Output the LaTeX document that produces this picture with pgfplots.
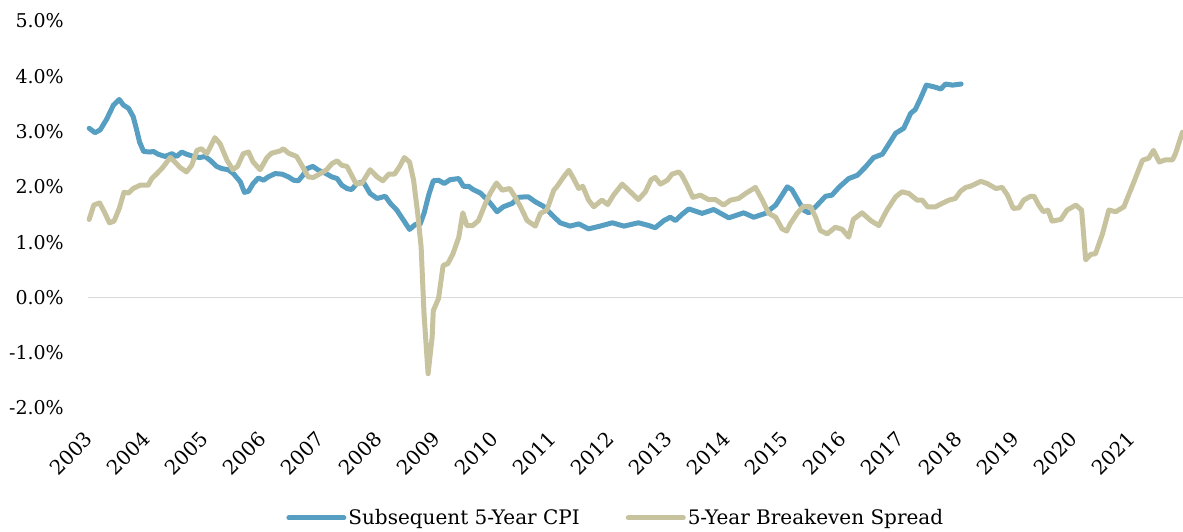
\documentclass[border=0pt]{standalone}
\usepackage{pgfplots}
\pgfplotsset{compat=1.18}
\usepackage{fontspec}
\setmainfont{DejaVu Serif}
\definecolor{cpiblue}{RGB}{86,158,194}
\definecolor{betan}{RGB}{200,195,159}
\definecolor{zerogray}{RGB}{217,217,217}

\begin{document}
\begin{tikzpicture}[x=1pt,y=1pt]
\useasboundingbox (0,0) rectangle (1183,532);
\begin{axis}[
  at={(88pt,124pt)}, anchor=south west,
  scale only axis, width=1095pt, height=387pt,
  xmin=2003, xmax=2021.9, ymin=-2, ymax=5,
  axis line style={draw=none}, major tick style={draw=none}, minor tick style={draw=none},
  xtick={2003,2004,2005,2006,2007,2008,2009,2010,2011,2012,2013,2014,2015,2016,2017,2018,2019,2020,2021},
  xticklabels={2003,2004,2005,2006,2007,2008,2009,2010,2011,2012,2013,2014,2015,2016,2017,2018,2019,2020,2021},
  ytick={-2,-1,0,1,2,3,4,5},
  yticklabels={-2.0\%,-1.0\%,0.0\%,1.0\%,2.0\%,3.0\%,4.0\%,5.0\%},
  extra y ticks={0}, extra y tick labels={},
  extra y tick style={grid=major, major grid style={draw=zerogray, line width=1.3pt}},
  yticklabel style={font=\fontsize{19}{23}\selectfont, anchor=east, inner sep=0pt, xshift=-24pt},
  xticklabel style={font=\fontsize{20}{24}\selectfont, xshift=1pt, yshift=-27pt, rotate=45, anchor=east, inner sep=0pt},
  legend style={at={(0.181,-0.284)}, anchor=west, draw=none, fill=none,
    legend columns=2, font=\fontsize{20}{24}\selectfont, inner sep=0pt,
    /tikz/every even column/.append style={column sep=44pt}},
  legend image code/.code={\draw[#1] (0pt,0pt) -- (55pt,0pt);},
  clip=false,
]
\addplot[cpiblue, line width=5pt, line join=round, line cap=round] coordinates {
(2003.02,3.06) (2003.12,2.98) (2003.21,3.03) (2003.32,3.22) (2003.44,3.48) (2003.54,3.58)
(2003.61,3.48) (2003.70,3.42) (2003.78,3.27) (2003.84,3.03) (2003.89,2.81) (2003.96,2.64)
(2004.07,2.63) (2004.13,2.64) (2004.21,2.59) (2004.33,2.55) (2004.45,2.60) (2004.53,2.55)
(2004.62,2.63) (2004.70,2.59) (2004.82,2.55) (2004.93,2.53) (2005.02,2.55) (2005.11,2.48)
(2005.22,2.37) (2005.31,2.33) (2005.42,2.31) (2005.51,2.24) (2005.63,2.09) (2005.70,1.90)
(2005.77,1.92) (2005.85,2.06) (2005.94,2.16) (2006.03,2.12) (2006.11,2.18) (2006.23,2.24)
(2006.35,2.23) (2006.46,2.18) (2006.55,2.12) (2006.63,2.11) (2006.71,2.21) (2006.78,2.33)
(2006.88,2.37) (2006.98,2.30) (2007.09,2.25) (2007.21,2.18) (2007.30,2.15) (2007.38,2.03)
(2007.47,1.97) (2007.55,1.95) (2007.64,2.06) (2007.75,2.09) (2007.87,1.88) (2007.99,1.79)
(2008.13,1.83) (2008.22,1.70) (2008.33,1.58) (2008.45,1.39) (2008.55,1.23) (2008.65,1.32)
(2008.73,1.32) (2008.80,1.52) (2008.88,1.85) (2008.96,2.11) (2009.05,2.12) (2009.15,2.06)
(2009.25,2.13) (2009.40,2.15) (2009.48,2.01) (2009.57,2.01) (2009.65,1.95) (2009.77,1.89)
(2009.89,1.77) (2009.97,1.67) (2010.06,1.55) (2010.17,1.64) (2010.32,1.70) (2010.43,1.81)
(2010.55,1.82) (2010.60,1.82) (2010.72,1.73) (2010.86,1.65) (2011.01,1.49) (2011.15,1.35)
(2011.32,1.29) (2011.47,1.33) (2011.64,1.24) (2011.84,1.29) (2012.05,1.35) (2012.25,1.29)
(2012.50,1.35) (2012.68,1.30) (2012.79,1.26) (2012.94,1.39) (2013.05,1.45) (2013.14,1.39)
(2013.25,1.50) (2013.37,1.60) (2013.60,1.52) (2013.80,1.59) (2014.06,1.44) (2014.32,1.53)
(2014.49,1.45) (2014.69,1.52) (2014.87,1.67) (2014.98,1.85) (2015.07,2.00) (2015.15,1.95)
(2015.27,1.73) (2015.35,1.58) (2015.44,1.53) (2015.56,1.64) (2015.73,1.83) (2015.84,1.85)
(2015.96,1.99) (2016.13,2.15) (2016.28,2.21) (2016.42,2.36) (2016.56,2.53) (2016.71,2.59)
(2016.82,2.77) (2016.94,2.97) (2017.08,3.06) (2017.20,3.33) (2017.28,3.40) (2017.37,3.60)
(2017.47,3.84) (2017.60,3.81) (2017.72,3.77) (2017.80,3.86) (2017.92,3.84) (2018.07,3.86)
};
\addlegendentry{Subsequent 5-Year CPI}
\addplot[betan, line width=5pt, line join=round, line cap=round] coordinates {
(2003.02,1.41) (2003.10,1.67) (2003.20,1.71) (2003.28,1.55) (2003.37,1.35) (2003.45,1.38)
(2003.54,1.61) (2003.62,1.90) (2003.70,1.89) (2003.78,1.97) (2003.90,2.03) (2004.04,2.03)
(2004.10,2.15) (2004.19,2.24) (2004.29,2.35) (2004.42,2.53) (2004.50,2.45) (2004.59,2.35)
(2004.70,2.27) (2004.79,2.39) (2004.88,2.66) (2004.96,2.69) (2005.05,2.60) (2005.12,2.74)
(2005.19,2.89) (2005.28,2.78) (2005.40,2.48) (2005.50,2.31) (2005.58,2.37) (2005.68,2.60)
(2005.77,2.63) (2005.85,2.45) (2005.97,2.31) (2006.09,2.53) (2006.17,2.61) (2006.32,2.65)
(2006.37,2.69) (2006.46,2.61) (2006.60,2.55) (2006.69,2.39) (2006.80,2.18) (2006.89,2.17)
(2007.01,2.24) (2007.12,2.31) (2007.21,2.42) (2007.30,2.47) (2007.38,2.39) (2007.47,2.37)
(2007.55,2.21) (2007.63,2.05) (2007.73,2.07) (2007.87,2.31) (2007.99,2.18) (2008.09,2.11)
(2008.19,2.23) (2008.29,2.23) (2008.38,2.37) (2008.46,2.53) (2008.55,2.45) (2008.62,2.12)
(2008.69,1.52) (2008.75,0.91) (2008.80,-0.30) (2008.87,-1.38) (2008.94,-0.72) (2008.96,-0.24)
(2009.05,-0.02) (2009.13,0.58) (2009.21,0.61) (2009.30,0.79) (2009.40,1.09) (2009.47,1.53)
(2009.54,1.30) (2009.64,1.30) (2009.74,1.39) (2009.86,1.70) (2009.94,1.88) (2010.05,2.07)
(2010.15,1.94) (2010.28,1.97) (2010.37,1.82) (2010.46,1.65) (2010.58,1.39) (2010.72,1.29)
(2010.81,1.52) (2010.92,1.58) (2011.04,1.94) (2011.09,2.00) (2011.21,2.18) (2011.30,2.30)
(2011.38,2.15) (2011.47,1.97) (2011.54,2.01) (2011.64,1.76) (2011.73,1.64) (2011.87,1.76)
(2011.97,1.68) (2012.07,1.85) (2012.22,2.05) (2012.36,1.91) (2012.50,1.77) (2012.62,1.91)
(2012.72,2.13) (2012.79,2.17) (2012.88,2.05) (2013.00,2.12) (2013.08,2.23) (2013.20,2.27)
(2013.25,2.21) (2013.34,2.03) (2013.44,1.81) (2013.57,1.85) (2013.71,1.77) (2013.83,1.77)
(2013.97,1.67) (2014.09,1.76) (2014.23,1.79) (2014.35,1.88) (2014.52,1.99) (2014.64,1.76)
(2014.75,1.52) (2014.87,1.45) (2014.98,1.24) (2015.06,1.20) (2015.12,1.33) (2015.24,1.52)
(2015.35,1.65) (2015.47,1.64) (2015.56,1.45) (2015.64,1.21) (2015.76,1.15) (2015.90,1.27)
(2016.02,1.23) (2016.13,1.09) (2016.21,1.41) (2016.36,1.53) (2016.51,1.39) (2016.65,1.30)
(2016.79,1.58) (2016.94,1.82) (2017.05,1.91) (2017.17,1.88) (2017.31,1.76) (2017.40,1.76)
(2017.49,1.64) (2017.63,1.64) (2017.74,1.70) (2017.86,1.76) (2017.97,1.79) (2018.06,1.92)
(2018.15,1.99) (2018.23,2.01) (2018.41,2.10) (2018.52,2.06) (2018.67,1.97) (2018.78,1.99)
(2018.87,1.85) (2018.97,1.61) (2019.07,1.62) (2019.15,1.76) (2019.27,1.83) (2019.33,1.83)
(2019.41,1.67) (2019.49,1.55) (2019.57,1.58) (2019.64,1.38) (2019.79,1.41) (2019.90,1.58)
(2020.05,1.67) (2020.15,1.58) (2020.22,0.68) (2020.31,0.78) (2020.39,0.79) (2020.51,1.15)
(2020.62,1.58) (2020.74,1.55) (2020.88,1.64) (2021.03,2.03) (2021.20,2.48) (2021.31,2.52)
(2021.39,2.66) (2021.49,2.45) (2021.60,2.49) (2021.72,2.49) (2021.77,2.60) (2021.89,2.99)
};
\addlegendentry{5-Year Breakeven Spread}
\end{axis}
\end{tikzpicture}
\end{document}
